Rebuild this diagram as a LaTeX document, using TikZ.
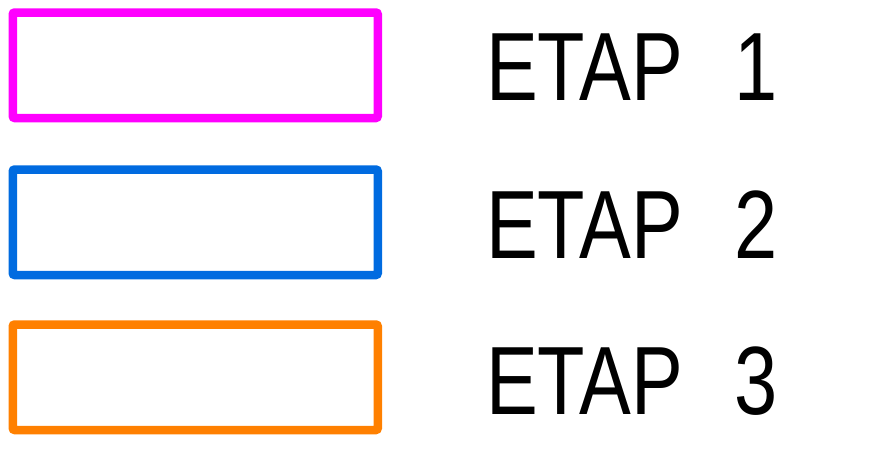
\documentclass[tikz,border=0pt]{standalone}
\usepackage{fontspec}
\newfontfamily\etapfont[FakeStretch=0.8,WordSpace=2.4]{Liberation Sans}
\definecolor{etapone}{HTML}{FF00FF}
\definecolor{etaptwo}{HTML}{006BE0}
\definecolor{etapthree}{HTML}{FF8000}
\begin{document}
\begin{tikzpicture}[x=1pt,y=-1pt,
  legendbox/.style={draw=#1, line width=8.5pt, rounded corners=2pt, minimum width=365pt, minimum height=105.5pt, inner sep=0pt, fill=white},
  legendtext/.style={anchor=base west, inner sep=0pt, font=\etapfont\fontsize{97}{97}\selectfont, text=black}]
\useasboundingbox (0,0) rectangle (887,451);
\node[legendbox=etapone] (b1) at (195.25,65.25) {};
\node[legendbox=etaptwo] (b2) at (195.25,222.25) {};
\node[legendbox=etapthree] (b3) at (195.25,377.25) {};
\node[legendtext] (t1) at (486,100) {ETAP 1};
\node[legendtext] (t2) at (486,258) {ETAP 2};
\node[legendtext] (t3) at (486,414) {ETAP 3};
\end{tikzpicture}
\end{document}
